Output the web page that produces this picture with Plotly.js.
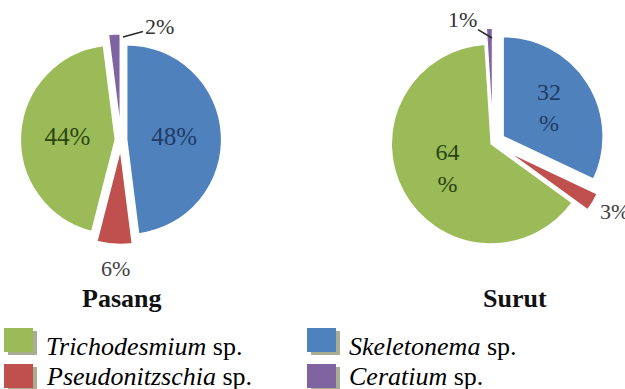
<!DOCTYPE html>
<html>
<head>
<meta charset="utf-8">
<script src="https://cdn.plot.ly/plotly-3.0.1.min.js"></script>
</head>
<body style="margin:0;background:#fff">
<div id="chart"></div>
<script>
// ---- data ----
const sliceLabels = ['Skeletonema', 'Pseudonitzschia', 'Trichodesmium', 'Ceratium'];
const pasangValues = [48, 6, 44, 2];
const surutValues = [32, 3, 64, 1];
const sliceColors = ['#4f81bd', '#c0504d', '#9bbb59', '#8064a2'];
const textColors = ['#1f3c66', '#404040', '#2c4510', '#333333'];
const panelTitles = ['Pasang', 'Surut'];
const legendOrder = ['Trichodesmium', 'Skeletonema', 'Pseudonitzschia', 'Ceratium'];

const serifFamily = 'Liberation Serif, Times New Roman, serif';

const pasang = {
  type: 'pie', labels: sliceLabels, values: pasangValues,
  sort: false, direction: 'clockwise', rotation: 0,
  pull: [0.06, 0.1, 0.06, 0.12],
  marker: {colors: sliceColors, line: {color: '#ffffff', width: 1.5}},
  textposition: ['inside', 'none', 'inside', 'none'],
  texttemplate: '%{value}%',
  textfont: {family: serifFamily, size: 25, color: textColors},
  insidetextorientation: 'horizontal',
  domain: {x: [0.0234, 0.3638], y: [0.3666, 0.9136]},
  hoverinfo: 'none', showlegend: false
};
const surut = {
  type: 'pie', labels: sliceLabels, values: surutValues,
  sort: false, direction: 'clockwise', rotation: 0,
  pull: [0.12, 0.16, 0.02, 0.15],
  marker: {colors: sliceColors, line: {color: '#ffffff', width: 1.5}},
  textposition: ['inside', 'none', 'inside', 'none'],
  texttemplate: ['%{value}<br>%', '%{value}%', '%{value}<br>%', '%{value}%'],
  textfont: {family: serifFamily, size: 24, color: textColors},
  insidetextorientation: 'horizontal',
  domain: {x: [0.6032, 0.9744], y: [0.3342, 0.9306]},
  hoverinfo: 'none', showlegend: false
};

const W = 625, H = 389;
const px = x => x / W, py = y => 1 - y / H;

const annotations = [];
const shapes = [];
const titleX = [121, 515];
panelTitles.forEach((t, i) => {
  annotations.push({xref: 'paper', yref: 'paper', x: px(titleX[i]), y: py(298),
    xanchor: 'center', yanchor: 'middle', showarrow: false,
    text: '<b>' + t + '</b>', font: {family: serifFamily, size: 26, color: '#111'}});
});

// outside labels for the small slices (text taken from the data arrays)
const outLab = (val, x, y, ax, ay) => annotations.push({
  xref: 'paper', yref: 'paper', x: px(x), y: py(y),
  axref: 'pixel', ayref: 'pixel', ax: ax, ay: ay,
  showarrow: true, arrowhead: 0, arrowwidth: 1.6, arrowcolor: '#2a2a2a',
  standoff: 0, startstandoff: 0,
  text: val + '%', font: {family: serifFamily, size: 22, color: '#333'}});
annotations.push({xref: 'paper', yref: 'paper', x: px(116), y: py(268),
  xanchor: 'center', yanchor: 'middle', showarrow: false,
  text: pasangValues[1] + '%', font: {family: serifFamily, size: 22, color: '#404040'}});
outLab(pasangValues[3], 123, 37, 36, -10);
annotations.push({xref: 'paper', yref: 'paper', x: px(598), y: py(212),
  xanchor: 'left', yanchor: 'middle', showarrow: false,
  text: surutValues[1] + '%', font: {family: serifFamily, size: 22, color: '#404040'}});
outLab(surutValues[3], 492, 38, -30, -18);

// custom legend (2 columns x 2 rows)
const colX = [4, 307], rowY = [328, 364], textY = [346, 376];
const swW = 29, swH = 24;
legendOrder.forEach((name, i) => {
  const c = i % 2, r = Math.floor(i / 2);
  const color = sliceColors[sliceLabels.indexOf(name)];
  const x0 = colX[c], y0 = rowY[r];
  shapes.push({type: 'rect', xref: 'paper', yref: 'paper',
    x0: px(x0 + 4), x1: px(x0 + swW + 4), y0: py(y0 + 3), y1: py(y0 + swH + 3),
    fillcolor: '#a9ad93', line: {width: 0}});
  shapes.push({type: 'rect', xref: 'paper', yref: 'paper',
    x0: px(x0), x1: px(x0 + swW), y0: py(y0), y1: py(y0 + swH),
    fillcolor: color, line: {width: 0}});
  annotations.push({xref: 'paper', yref: 'paper', x: px(x0 + 40), y: py(textY[r]),
    xanchor: 'left', yanchor: 'middle', showarrow: false,
    text: '<i>' + name + '</i> sp.', font: {family: serifFamily, size: 26, color: '#000'}});
});

const layout = {
  width: W, height: H, margin: {l: 0, r: 0, t: 0, b: 0},
  paper_bgcolor: '#ffffff', plot_bgcolor: '#ffffff',
  font: {family: serifFamily},
  showlegend: false, annotations, shapes
};
Plotly.newPlot('chart', [pasang, surut], layout, {displayModeBar: false, staticPlot: true});
</script>
</body>
</html>
